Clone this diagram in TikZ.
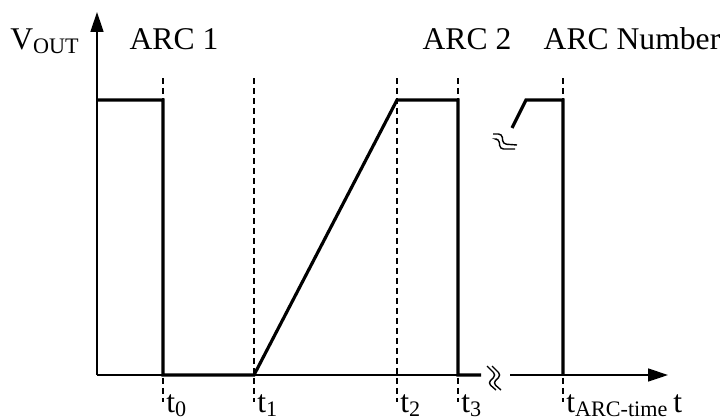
\documentclass[tikz,border=0pt]{standalone}
\usepackage{fontspec}
\setmainfont{Liberation Serif}
\usetikzlibrary{arrows.meta}

\begin{document}
\begin{tikzpicture}[x=0.02cm, y=-0.02cm,
    font=\fontsize{18}{21}\selectfont,
    axis/.style={line width=0.8pt},
    axisarrow/.style={axis, -{Triangle[length=0.4cm, width=0.26cm]}},
    signal/.style={line width=1.8pt, line join=miter},
    marker/.style={dash pattern=on 0.12cm off 0.08cm, line width=0.6pt},
    breakline/.style={line width=0.8pt, rounded corners=2pt},
    tlabel/.style={anchor=base west, inner sep=0pt},
    title/.style={anchor=base, inner sep=0pt}
]
\useasboundingbox (0,0) rectangle (726,419);

% axes
\coordinate (origin) at (97,375);
\coordinate (ytop) at (97,12);
\coordinate (xbreak) at (481,375);
\coordinate (xresume) at (510,375);
\coordinate (xend) at (668,375);
\draw[axisarrow] (origin) -- (ytop);
\draw[axis] (origin) -- (xbreak);
\draw[axisarrow] (xresume) -- (xend);

% time markers
\foreach \x in {163, 254, 397, 458, 563}
    \draw[marker] (\x,78) -- (\x,402);

% output signal
\draw[signal] (97,100) -- (163,100) -- (163,375) -- (254,375)
    -- (397,100) -- (458,100) -- (458,375) -- (xbreak);
\draw[signal] (512,128) -- (526,100) -- (563,100) -- (563,375);

% break marks
\foreach \d in {0,5}
    \draw[breakline] (487+\d,366) -- (496+\d,375) -- (488+\d,383) -- (496+\d,390);
\draw[breakline] (493,134) -- (502,134) -- (503,144) -- (517,145);
\draw[breakline] (497,139) -- (499,139) -- (500,149) -- (515,149);

% labels
\node[anchor=base west, inner sep=0pt] (vout) at (10,49) {V\textsubscript{OUT}};
\node[title] (arc1) at (174,49) {ARC 1};
\node[title] (arc2) at (467,49) {ARC 2};
\node[title] (arcn) at (632,49) {ARC Number};

\node[tlabel] (lt0) at (166,412) {t\textsubscript{0}};
\node[tlabel] (lt1) at (257,412) {t\textsubscript{1}};
\node[tlabel] (lt2) at (400,412) {t\textsubscript{2}};
\node[tlabel] (lt3) at (461,412) {t\textsubscript{3}};
\node[tlabel] (ltarc) at (566,412) {t\textsubscript{ARC-time}};
\node[tlabel] (lt) at (673,412) {t};

\end{tikzpicture}
\end{document}
